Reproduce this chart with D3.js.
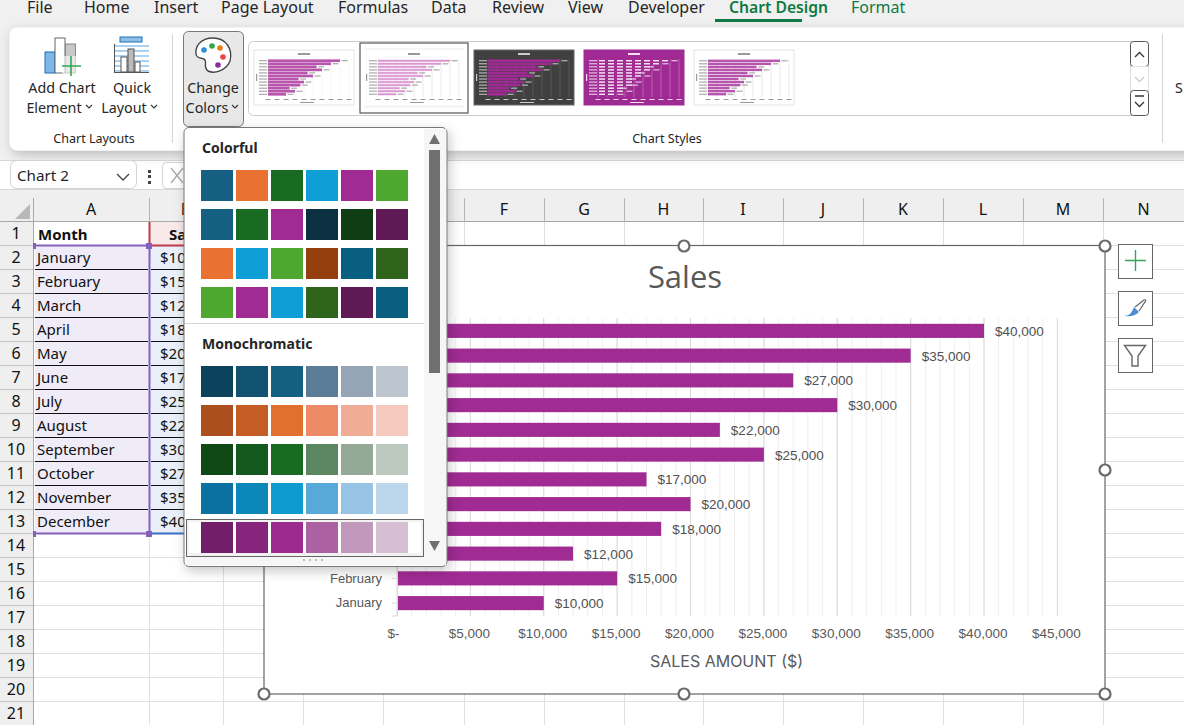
<!DOCTYPE html>
<html>
<head>
<meta charset="utf-8">
<script src="https://d3js.org/d3.v7.min.js"></script>
<style>
    html, body { margin: 0; padding: 0; background: #fff; overflow: hidden; }
    svg { display: block; }
    text { font-family: "Noto Sans", sans-serif; }
    .axis text { font-family: "Liberation Sans", sans-serif; font-size: 13.5px; fill: #595959; }
    .ui { fill: #262626; font-size: 14.3px; }
    .cell { font-family: "Noto Sans", sans-serif; font-size: 15px; fill: #111; }
</style>
</head>
<body>
<svg width="1184" height="725"></svg>
<script>
    // chart data
    var months = ["January", "February", "March", "April", "May", "June", "July", "August", "September", "October", "November", "December"];
    var sales = [10000, 15000, 12000, 18000, 20000, 17000, 25000, 22000, 30000, 27000, 35000, 40000];
    var salesTicks = [0, 5000, 10000, 15000, 20000, 25000, 30000, 35000, 40000, 45000];
    var minorTicks = d3.range(1000, 45000, 1000);

    // surrounding excel window
    var tabs = ["File", "Home", "Insert", "Page Layout", "Formulas", "Data", "Review", "View", "Developer", "Chart Design", "Format"];
    var tabX = [27, 84, 154, 221, 338, 431, 492, 568, 628, 729, 851];
    var columns = ["A", "B", "C", "D", "E", "F", "G", "H", "I", "J", "K", "L", "M", "N"];
    var columnEdges = [33, 149, 223, 303, 383, 464, 544, 624, 703, 783, 863, 943, 1023, 1103, 1184];
    var rowNumbers = d3.range(1, 22);

    var colorful = [
        ["#156082", "#e97132", "#196b24", "#0f9ed5", "#a02b93", "#4ea72e"],
        ["#156082", "#196b24", "#a02b93", "#0b3041", "#0f3d14", "#5f1a56"],
        ["#e97132", "#0f9ed5", "#4ea72e", "#953f0f", "#085f80", "#2f641c"],
        ["#4ea72e", "#a02b93", "#0f9ed5", "#2f641c", "#5f1a56", "#085f80"]
    ];
    var monochromatic = [
        ["#0c425c", "#115270", "#156082", "#5b7c96", "#95a5b5", "#bdc5cf"],
        ["#ab4f1f", "#c55c26", "#e0702e", "#ec8b65", "#f1ac98", "#f5c9be"],
        ["#0f4a16", "#14591d", "#196b24", "#5c8660", "#95aa96", "#bdc8bf"],
        ["#0a71a0", "#0c87ba", "#0f9ad0", "#58a9d9", "#97c3e4", "#bcd6ec"],
        ["#721e69", "#87247c", "#9b2b8e", "#ac62a2", "#c298bc", "#d6bfd3"]
    ];

    var purple = "#a02b93";
    var svg = d3.select("svg");

    function txt(parent, s, x, y, cls, anchor) {
        return parent.append("text").attr("x", x).attr("y", y)
            .attr("class", cls || "ui").attr("text-anchor", anchor || "start").text(s);
    }
    function box(parent, x, y, w, h, fill, stroke, r) {
        return parent.append("rect").attr("x", x).attr("y", y).attr("width", w).attr("height", h)
            .attr("fill", fill).attr("stroke", stroke || "none").attr("rx", r || 0);
    }

    var defs = svg.append("defs");
    var shadow = defs.append("filter").attr("id", "shadow").attr("x", "-10%").attr("y", "-10%").attr("width", "125%").attr("height", "125%");
    shadow.append("feDropShadow").attr("dx", 2).attr("dy", 4).attr("stdDeviation", 6).attr("flood-color", "#000").attr("flood-opacity", 0.22);
    defs.append("filter").attr("id", "soft").append("feGaussianBlur").attr("stdDeviation", 0.45);

    // ---- sheet ----
    var sheet = svg.append("g");
    var rowY = function(n) { return 221 + 24 * n; };

    box(sheet, 0, 190, 1184, 535, "#fff");
    box(sheet, 0, 190, 1184, 32, "#efefef");
    box(sheet, 0, 190, 33, 535, "#efefef");

    sheet.selectAll(".hline").data(rowNumbers).enter().append("line")
        .attr("x1", 33).attr("x2", 1184)
        .attr("y1", function(d) { return rowY(d) + 0.5; }).attr("y2", function(d) { return rowY(d) + 0.5; })
        .attr("stroke", "#e0e0e0").attr("stroke-width", 1);
    sheet.selectAll(".vline").data(columnEdges).enter().append("line")
        .attr("x1", function(d) { return d + 0.5; }).attr("x2", function(d) { return d + 0.5; })
        .attr("y1", 222).attr("y2", 725)
        .attr("stroke", "#e0e0e0");
    sheet.selectAll(".vhead").data(columnEdges).enter().append("line")
        .attr("x1", function(d) { return d + 0.5; }).attr("x2", function(d) { return d + 0.5; })
        .attr("y1", 198).attr("y2", 222).attr("stroke", "#b4b4b4");
    sheet.append("line").attr("x1", 0).attr("x2", 1184).attr("y1", 221.5).attr("y2", 221.5).attr("stroke", "#a8a8a8");
    sheet.append("line").attr("x1", 33.5).attr("x2", 33.5).attr("y1", 198).attr("y2", 725).attr("stroke", "#a8a8a8");
    sheet.append("path").attr("d", "M15 219H30V204Z").attr("fill", "#b8b8b8");

    columns.forEach(function(c, i) {
        txt(sheet, c, (columnEdges[i] + columnEdges[i + 1]) / 2, 215, "cell", "middle").style("font-size", "16px");
    });
    rowNumbers.forEach(function(n) {
        txt(sheet, n, 16, rowY(n) - 6, "cell", "middle").style("font-size", "16px");
        sheet.append("line").attr("x1", 0).attr("x2", 33).attr("y1", rowY(n) + 0.5).attr("y2", rowY(n) + 0.5).attr("stroke", "#c4c4c4");
    });

    // table, same values as the chart
    box(sheet, 35, 246, 114, 288, "#efecf7");
    box(sheet, 150, 246, 73, 288, "#e9f0f9");
    box(sheet, 150, 222, 73, 24, "#f9e9e9");
    txt(sheet, "Month", 38, 240, "cell").style("font-weight", "bold");
    txt(sheet, "Sales", 169, 240, "cell").style("font-weight", "bold");
    months.forEach(function(m, i) {
        var y = rowY(i + 2);
        txt(sheet, m, 37, y - 6, "cell");
        txt(sheet, d3.format("$,")(sales[i]), 160, y - 6, "cell");
        if (i < 11) {
            sheet.append("line").attr("x1", 35).attr("x2", 148).attr("y1", y + 0.5).attr("y2", y + 0.5).attr("stroke", "#111");
            sheet.append("line").attr("x1", 151).attr("x2", 223).attr("y1", y + 0.5).attr("y2", y + 0.5).attr("stroke", "#111");
        }
    });
    sheet.append("line").attr("x1", 149.5).attr("x2", 149.5).attr("y1", 222).attr("y2", 246).attr("stroke", "#c0394b").attr("stroke-width", 2);
    sheet.append("line").attr("x1", 150).attr("x2", 223).attr("y1", 245.5).attr("y2", 245.5).attr("stroke", "#c0394b").attr("stroke-width", 2);
    sheet.append("line").attr("x1", 150).attr("x2", 223).attr("y1", 533.5).attr("y2", 533.5).attr("stroke", "#3a6fc4").attr("stroke-width", 2);
    sheet.append("path").attr("d", "M34.5 245.5H149.5V533.5H34.5").attr("fill", "none").attr("stroke", "#8560bb").attr("stroke-width", 2);
    box(sheet, 146, 243, 6, 6, "#8560bb");
    box(sheet, 146, 531, 6, 6, "#8560bb");
    box(sheet, 33, 243, 3, 6, "#8560bb");
    box(sheet, 33, 531, 3, 6, "#8560bb");

    // ---- chart ----
    var chart = svg.append("g");
    box(chart, 264, 245.5, 841, 448.5, "#fff", "#666").attr("stroke-width", 1.2);

    var x = d3.scaleLinear().domain([0, 45000]).range([397, 1057.4]);
    var y = d3.scaleBand().domain(months).range([615.5, 318.5]).paddingInner(0.43).paddingOuter(0.215);

    chart.selectAll(".minor").data(minorTicks).enter().append("line")
        .attr("x1", function(d) { return x(d); }).attr("x2", function(d) { return x(d); })
        .attr("y1", 318).attr("y2", 616).attr("stroke", "#efefef");
    chart.selectAll(".major").data(salesTicks).enter().append("line")
        .attr("x1", function(d) { return x(d); }).attr("x2", function(d) { return x(d); })
        .attr("y1", 318).attr("y2", 616).attr("stroke", "#d9d9d9");

    chart.selectAll(".bar").data(sales).enter().append("rect")
        .attr("x", x(0))
        .attr("y", function(d, i) { return y(months[i]); })
        .attr("width", function(d) { return x(d) - x(0); })
        .attr("height", y.bandwidth())
        .attr("fill", purple);

    chart.selectAll(".label").data(sales).enter().append("text")
        .attr("x", function(d) { return x(d) + 11; })
        .attr("y", function(d, i) { return y(months[i]) + y.bandwidth() / 2 + 5; })
        .style("font-family", "'Liberation Sans', sans-serif").style("font-size", "13.5px").style("fill", "#505050")
        .text(function(d) { return d3.format("$,")(d); });

    var xAxis = d3.axisBottom(x).tickValues(salesTicks).tickSize(0).tickPadding(12)
        .tickFormat(function(d) { return d === 0 ? "$-" : d3.format("$,")(d); });
    var xg = chart.append("g").attr("class", "axis").attr("transform", "translate(0,616)").call(xAxis);
    xg.select(".domain").remove();
    xg.selectAll("text").attr("dx", function(d) { return d === 0 ? -4 : -1.5; });

    var yAxis = d3.axisLeft(y).tickSize(5).tickPadding(10);
    var yg = chart.append("g").attr("class", "axis").attr("transform", "translate(397,0)").call(yAxis);
    yg.select(".domain").attr("stroke", "#d9d9d9");
    yg.selectAll("line").attr("stroke", "#d9d9d9");
    yg.selectAll("text").style("font-size", "13px");

    txt(chart, "Sales", 685, 288, "", "middle").style("font-size", "31px").style("fill", "#595959").style("font-family", "'Open Sans', sans-serif");
    txt(chart, "SALES AMOUNT ($)", 726.5, 667, "", "middle").style("font-size", "16px").style("fill", "#595959").style("font-family", "Inter, sans-serif");

    // selection handles
    [[684, 246], [1105, 246], [1105, 470], [264, 694], [684, 694], [1105, 694]].forEach(function(p) {
        chart.append("circle").attr("cx", p[0]).attr("cy", p[1]).attr("r", 5.5)
            .attr("fill", "#fff").attr("stroke", "#6a6a6a").attr("stroke-width", 2.2);
    });

    // side buttons
    [244, 291, 338].forEach(function(t) {
        box(chart, 1118.5, t + 0.5, 34, 34, "#fff", "#666");
    });
    chart.append("path").attr("d", "M1135.5 250V271M1125 260.5H1146").attr("stroke", "#33a852").attr("stroke-width", 1.4);
    chart.append("path").attr("d", "M1124 316C1130 316 1132 312 1134 307L1139 312C1135 316 1130 317 1124 316Z").attr("fill", "#4a90d0");
    chart.append("path").attr("d", "M1135 307L1144 300C1146 299 1146 301 1145 302L1139 311").attr("fill", "#fff").attr("stroke", "#666").attr("stroke-width", 1.2);
    chart.append("path").attr("d", "M1124.5 345.5H1145.5L1138 356V366H1132V356Z").attr("fill", "#fff").attr("stroke", "#666").attr("stroke-width", 1.4);

    // ---- top bars ----
    var ribbon = svg.append("g");
    box(ribbon, 0, 0, 1184, 160, "#f0f0f0");
    box(ribbon, 0, 160, 1184, 30, "#fff");
    ribbon.append("line").attr("x1", 0).attr("x2", 1184).attr("y1", 189.5).attr("y2", 189.5).attr("stroke", "#d8d8d8");
    ribbon.append("line").attr("x1", 0).attr("x2", 1184).attr("y1", 160.5).attr("y2", 160.5).attr("stroke", "#d8d8d8");

    tabs.forEach(function(t, i) {
        var s = txt(ribbon, t, tabX[i], 13, "ui").style("font-size", "16px");
        if (i >= 9) s.style("fill", "#0e7a43");
        if (i === 9) s.style("font-weight", "600").style("font-size", "15.7px");
    });
    box(ribbon, 715, 19, 87, 3, "#0e7a43");

    box(ribbon, 9.5, 27.5, 1200, 123, "#fff", "none", 8).attr("filter", "url(#shadow)");

    // add chart element icon
    box(ribbon, 45, 52, 10, 21, "#7fb7e8", "#1c6fb8");
    box(ribbon, 55, 38, 10, 35, "#fff", "#666");
    box(ribbon, 65.5, 44, 10, 29, "#c8c8c8", "#888");
    box(ribbon, 62, 56, 19, 20, "#fff").attr("opacity", 0.6);
    ribbon.append("path").attr("d", "M71 56V76M62 66H81").attr("stroke", "#33a852").attr("stroke-width", 1.6);
    // quick layout icon
    box(ribbon, 120, 37, 22, 5, "#8fbfe8", "#1c6fb8");
    d3.range(0, 6).forEach(function(i) {
        ribbon.append("line").attr("x1", 114).attr("x2", 149).attr("y1", 46 + i * 5).attr("y2", 46 + i * 5).attr("stroke", "#5aa5e0");
    });
    box(ribbon, 121, 57, 6, 15, "#fff", "#555");
    box(ribbon, 128, 49, 6, 23, "#bbb", "#555");
    box(ribbon, 135, 62, 5, 10, "#fff", "#555");
    ribbon.append("line").attr("x1", 114.5).attr("x2", 114.5).attr("y1", 44).attr("y2", 73).attr("stroke", "#555");
    ribbon.append("line").attr("x1", 114).attr("x2", 149).attr("y1", 72.5).attr("y2", 72.5).attr("stroke", "#555");

    txt(ribbon, "Add Chart", 62, 93, "ui", "middle");
    txt(ribbon, "Element", 54, 113, "ui", "middle");
    txt(ribbon, "Quick", 132, 93, "ui", "middle");
    txt(ribbon, "Layout", 124, 113, "ui", "middle");
    txt(ribbon, "Chart Layouts", 94, 143, "ui", "middle").style("font-size", "12.5px");
    txt(ribbon, "Chart Styles", 667, 143, "ui", "middle").style("font-size", "12.5px");
    txt(ribbon, "S", 1175, 93, "ui");
    ribbon.append("line").attr("x1", 172.5).attr("x2", 172.5).attr("y1", 34).attr("y2", 143).attr("stroke", "#d4d4d4");
    ribbon.append("line").attr("x1", 1162.5).attr("x2", 1162.5).attr("y1", 34).attr("y2", 143).attr("stroke", "#d4d4d4");

    // change colors button
    box(ribbon, 183.5, 31.5, 60, 95, "#e8e8e8", "#777", 5);
    ribbon.append("path").attr("d", "M213 38C200 38 195 47 196 54C197 60 203 57 205 60C207 64 203 67 208 71C214 74 226 71 230 61C233 49 226 38 213 38Z")
        .attr("fill", "#fff").attr("stroke", "#444").attr("stroke-width", 1.4);
    [[204, 50, "#2d8fd5"], [212, 46, "#2aa84a"], [220, 48, "#e67e1a"], [223, 57, "#ee4444"], [218, 65, "#8e2ba0"]].forEach(function(p) {
        ribbon.append("circle").attr("cx", p[0]).attr("cy", p[1]).attr("r", 2.8).attr("fill", p[2]);
    });
    txt(ribbon, "Change", 213, 93, "ui", "middle");
    txt(ribbon, "Colors", 207, 113, "ui", "middle");
    [[89, 107], [154, 107], [235, 107]].forEach(function(p) {
        ribbon.append("path").attr("d", "M" + (p[0] - 3) + " " + (p[1] - 2) + "l3 3l3 -3").attr("fill", "none").attr("stroke", "#333").attr("stroke-width", 1.1);
    });

    // gallery
    box(ribbon, 248.5, 41.5, 899, 74, "#fff", "#ccc", 5);
    box(ribbon, 360, 43, 108, 70, "#fff", "#555").attr("stroke-width", 1.2);

    // the style previews are small copies of the same chart
    function thumb(style) {
        var g = ribbon.append("g").attr("transform", "translate(" + style.x + ",50)").attr("filter", "url(#soft)");
        var w = 100, h = 55;
        if (style.pale) box(g, 0, -2, w, h + 5, "#f6f6f6");
        box(g, 0, 0, w, h, style.bg, style.edge);
        var tx = d3.scaleLinear().domain([0, 45000]).range([14, 95]);
        var ty = d3.scaleBand().domain(months).range([46, 9]).padding(style.gap);
        salesTicks.forEach(function(t) {
            g.append("line").attr("x1", tx(t)).attr("x2", tx(t)).attr("y1", 9).attr("y2", 47).attr("stroke", style.grid).attr("stroke-width", 0.6);
            g.append("rect").attr("x", tx(t) - 2.5).attr("y", 49).attr("width", 5).attr("height", 1).attr("fill", style.ink);
        });
        g.selectAll(".tb").data(sales).enter().append("rect")
            .attr("x", tx(0)).attr("y", function(d, i) { return ty(months[i]); })
            .attr("width", function(d) { return tx(d) - tx(0); }).attr("height", ty.bandwidth())
            .attr("fill", style.bar);
        if (style.core) {
            g.selectAll(".tc").data(sales).enter().append("rect")
                .attr("x", tx(0)).attr("y", function(d, i) { return ty(months[i]) + ty.bandwidth() / 2 - 0.4; })
                .attr("width", function(d) { return tx(d) - tx(0); }).attr("height", 0.8)
                .attr("fill", style.core);
        }
        if (style.dash) {
            // this style breaks the bars into a row of labels
            g.selectAll(".td").data(d3.cross(sales, d3.range(0, 45000, 5000))).enter()
                .filter(function(d) { return d[1] < d[0]; }).append("rect")
                .attr("x", function(d) { return tx(d[1]) + 1; })
                .attr("y", function(d) { return ty(months[sales.indexOf(d[0])]) + ty.bandwidth() / 4; })
                .attr("width", 6).attr("height", ty.bandwidth() / 2)
                .attr("fill", style.dash);
        }
        g.selectAll(".tv").data(sales).enter().append("rect")
            .attr("x", function(d) { return tx(d) + 1.5; }).attr("y", function(d, i) { return ty(months[i]) + ty.bandwidth() / 2 - 0.5; })
            .attr("width", 6).attr("height", 1).attr("fill", style.ink);
        g.selectAll(".tl").data(months).enter().append("rect")
            .attr("x", 5).attr("y", function(d) { return ty(d) + ty.bandwidth() / 2 - 0.5; }).attr("width", 8).attr("height", 1).attr("fill", style.ink);
        g.append("rect").attr("x", 44).attr("y", 3).attr("width", 12).attr("height", 2).attr("fill", style.ink);
        g.append("rect").attr("x", 2).attr("y", 24).attr("width", 1.2).attr("height", 7).attr("fill", style.ink);
        g.append("rect").attr("x", 46).attr("y", 52).attr("width", 14).attr("height", 1).attr("fill", style.ink);
    }
    var thumbStyles = [
        { x: 254, bg: "#fff", edge: "#e4e4e4", bar: "#b855ad", grid: "#f2f2f2", ink: "#999", gap: 0.12 },
        { x: 364, bg: "#fff", edge: "none", bar: "#ecc6e7", core: "#cc70c0", grid: "#ddd", ink: "#999", gap: 0.2, pale: true },
        { x: 474, bg: "#404040", edge: "#666", bar: purple, grid: "#6a6a6a", ink: "#ccc", gap: 0.15 },
        { x: 584, bg: purple, edge: purple, bar: purple, dash: "#fff", grid: "#c77fbe", ink: "#f3e0f0", gap: 0.15 },
        { x: 694, bg: "#fff", edge: "#e4e4e4", bar: "#b855ad", grid: "#d8d8d8", ink: "#999", gap: 0.2 }
    ];
    thumbStyles.forEach(thumb);

    box(ribbon, 1130.5, 41.5, 18, 25, "#fff", "#555", 3);
    box(ribbon, 1130.5, 66.5, 18, 25, "#fff", "#ddd");
    box(ribbon, 1130.5, 90.5, 18, 25, "#fff", "#555", 3);
    ribbon.append("path").attr("d", "M1135 57L1139.5 52.5L1144 57").attr("fill", "none").attr("stroke", "#333").attr("stroke-width", 1.3);
    ribbon.append("path").attr("d", "M1135 77L1139.5 81.5L1144 77").attr("fill", "none").attr("stroke", "#ccc").attr("stroke-width", 1.3);
    ribbon.append("path").attr("d", "M1135 96H1144M1135 102L1139.5 106.5L1144 102").attr("fill", "none").attr("stroke", "#333").attr("stroke-width", 1.3);

    // name box
    box(ribbon, 10.5, 160.5, 126, 28, "#fff", "#d2d2d2", 6);
    txt(ribbon, "Chart 2", 17, 181, "ui").style("font-size", "15.2px");
    ribbon.append("path").attr("d", "M117 174L123 180L129 174").attr("fill", "none").attr("stroke", "#444").attr("stroke-width", 1.3);
    [170, 175, 181].forEach(function(cy) { box(ribbon, 148, cy, 3, 3, "#444"); });
    box(ribbon, 162.5, 162.5, 40, 26, "#fff", "#d2d2d2", 4);
    ribbon.append("path").attr("d", "M171 168L183 183M183 168L171 183").attr("stroke", "#aaa").attr("stroke-width", 1.4);

    // ---- change colors popup ----
    var pop = svg.append("g");
    box(pop, 184, 127.5, 263, 439, "#fff", "#777", 5).attr("filter", "url(#shadow)");
    box(pop, 424, 129, 22, 428, "#f6f6f6");
    box(pop, 185, 557, 261, 8, "#f6f6f6");
    box(pop, 429, 150, 11, 223, "#707070");
    pop.append("path").attr("d", "M429 144L434.5 134L440 144Z").attr("fill", "#707070");
    pop.append("path").attr("d", "M429 541L434.5 551L440 541Z").attr("fill", "#707070");
    d3.range(0, 4).forEach(function(i) { box(pop, 303 + i * 6, 559, 2, 2, "#bbb"); });
    pop.append("line").attr("x1", 185).attr("x2", 424).attr("y1", 323.5).attr("y2", 323.5).attr("stroke", "#d4d4d4");

    txt(pop, "Colorful", 202, 153, "ui").style("font-weight", "bold").style("font-size", "14px");
    txt(pop, "Monochromatic", 202, 349, "ui").style("font-weight", "bold").style("font-size", "14px");

    // last row of the palette is the picked one
    box(pop, 186.5, 519.5, 237, 37, "#f2f2f2", "#666");
    box(pop, 189, 522, 232, 31, "#fff");

    function swatches(rows, top0) {
        rows.forEach(function(row, r) {
            pop.selectAll(null).data(row).enter().append("rect")
                .attr("x", function(d, i) { return 201 + i * 35; })
                .attr("y", top0 + r * 39)
                .attr("width", 32).attr("height", 31)
                .attr("fill", function(d) { return d; });
        });
    }
    swatches(colorful, 170);
    swatches(monochromatic, 366);
</script>
</body>
</html>
